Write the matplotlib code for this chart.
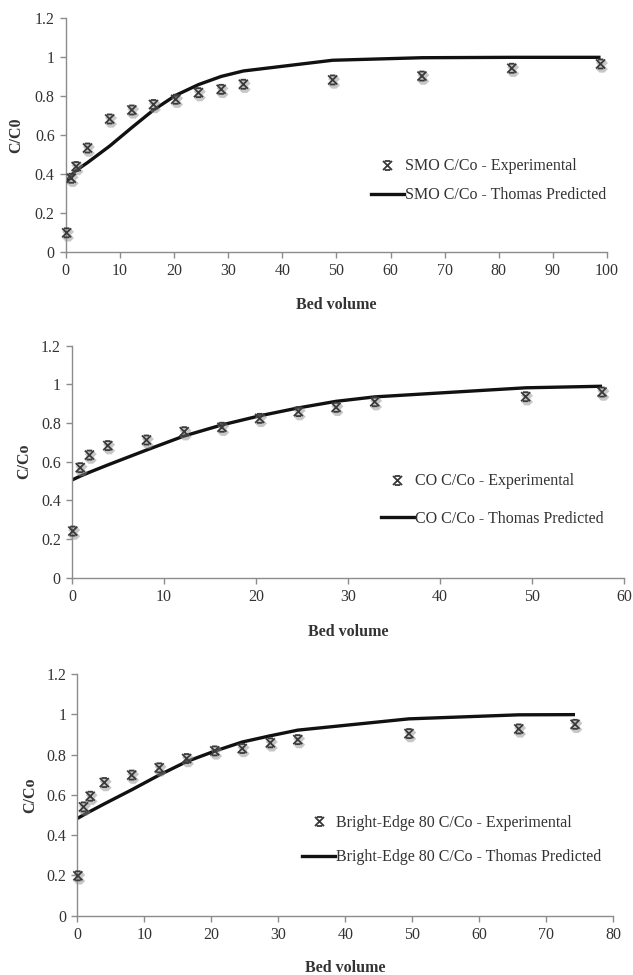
import numpy as np
import matplotlib
matplotlib.use('Agg')
import matplotlib.pyplot as plt
import matplotlib.patheffects as pe
from matplotlib.path import Path
from matplotlib.ticker import FuncFormatter, MultipleLocator
from matplotlib.lines import Line2D

plt.rcParams['font.family'] = ['Liberation Serif', 'DejaVu Serif']

# SMO
smo_bv = [0.15, 1.0, 1.9, 4.0, 8.1, 12.2, 16.2, 20.3, 24.5, 28.7, 32.8, 49.3, 65.8, 82.4, 98.8]
smo_exp = [0.10, 0.38, 0.44, 0.535, 0.684, 0.73, 0.758, 0.785, 0.819, 0.836, 0.862, 0.884, 0.904, 0.944, 0.966]
smo_line_bv = [0, 1.0, 1.9, 4.0, 8.1, 12.2, 16.2, 20.3, 24.5, 28.7, 32.8, 49.3, 65.8, 82.4, 98.8]
smo_thomas = [0.36, 0.395, 0.42, 0.46, 0.545, 0.64, 0.73, 0.805, 0.86, 0.902, 0.93, 0.985, 0.998, 1.0, 1.0]

# CO
co_bv = [0.1, 0.9, 1.9, 3.9, 8.1, 12.2, 16.3, 20.4, 24.6, 28.7, 32.9, 49.3, 57.6]
co_exp = [0.241, 0.569, 0.634, 0.683, 0.712, 0.755, 0.778, 0.824, 0.859, 0.881, 0.910, 0.936, 0.960]
co_line_bv = [0, 0.9, 1.9, 3.9, 8.1, 12.2, 16.3, 20.4, 24.6, 28.7, 32.9, 49.3, 57.6]
co_thomas = [0.505, 0.525, 0.545, 0.583, 0.66, 0.733, 0.79, 0.837, 0.878, 0.912, 0.935, 0.982, 0.99]

# Bright-Edge 80
be_bv = [0.06, 0.9, 1.9, 4.0, 8.1, 12.2, 16.3, 20.5, 24.6, 28.8, 32.9, 49.5, 65.9, 74.3]
be_exp = [0.198, 0.540, 0.593, 0.661, 0.698, 0.734, 0.780, 0.818, 0.830, 0.858, 0.874, 0.904, 0.927, 0.950]
be_line_bv = [0, 0.9, 1.9, 4.0, 8.1, 12.2, 16.3, 20.5, 24.6, 28.8, 32.9, 49.5, 65.9, 74.3]
be_thomas = [0.483, 0.50, 0.518, 0.555, 0.625, 0.698, 0.765, 0.817, 0.862, 0.893, 0.921, 0.977, 0.997, 0.998]

# X marker with caps top and bottom (Excel style)
verts = [(-1, -1), (1, 1), (-1, 1), (1, -1), (-0.6, 1), (0.6, 1), (-0.6, -1), (0.6, -1)]
codes = [Path.MOVETO, Path.LINETO] * 4
star = Path(verts, codes)

shadow = [pe.SimpleLineShadow(offset=(1, -1.5), shadow_color='#909090', alpha=0.5, rho=1.0, linewidth=3),
          pe.Normal()]

panels = [
    dict(bv=smo_bv, exp=smo_exp, lbv=smo_line_bv, th=smo_thomas, xmax=100, ylab='C/C0',
         name='SMO', rect=[0.104, 0.7412, 0.855, 0.240], leg=(0.563, 0.306), lsp=0.8,
         ylx=-0.077, xly=-0.19),
    dict(bv=co_bv, exp=co_exp, lbv=co_line_bv, th=co_thomas, xmax=60, ylab='C/Co',
         name='CO', rect=[0.1136, 0.4075, 0.8724, 0.238], leg=(0.559, 0.334), lsp=1.35,
         ylx=-0.072, xly=-0.2),
    dict(bv=be_bv, exp=be_exp, lbv=be_line_bv, th=be_thomas, xmax=80, ylab='C/Co',
         name='Bright-Edge 80', rect=[0.1224, 0.0608, 0.8463, 0.248], leg=(0.419, 0.313), lsp=1.15,
         ylx=-0.074, xly=-0.182),
]

fig = plt.figure(figsize=(6.33, 9.75), dpi=100)
grey = '#8c8c8c'
txt = '#333333'

for p in panels:
    ax = fig.add_axes(p['rect'])
    ax.plot(p['bv'], p['exp'], linestyle='none', marker=star, markersize=6.5,
            markeredgewidth=1.3, color='#3a3a3a', path_effects=shadow, clip_on=False, zorder=3)
    ax.plot(p['lbv'], p['th'], color='#111111', linewidth=2.4, solid_capstyle='butt', zorder=2)
    ax.set_xlim(0, p['xmax'])
    ax.set_ylim(0, 1.2)
    ax.xaxis.set_major_locator(MultipleLocator(10))
    ax.yaxis.set_major_locator(MultipleLocator(0.2))
    ax.yaxis.set_major_formatter(FuncFormatter(lambda v, pos: '%g' % round(v, 2)))
    for s in ['top', 'right']:
        ax.spines[s].set_visible(False)
    for s in ['left', 'bottom']:
        ax.spines[s].set_color(grey)
        ax.spines[s].set_linewidth(1.0)
    ax.tick_params(direction='out', length=4, width=1, color=grey, labelsize=11.5,
                   labelcolor=txt, pad=4)
    ax.set_ylabel(p['ylab'], fontweight='bold', fontsize=11.5, color=txt)
    ax.yaxis.set_label_coords(p['ylx'], 0.5)
    ax.set_xlabel('Bed volume', fontweight='bold', fontsize=11.5, color=txt)
    ax.xaxis.set_label_coords(0.5, p['xly'])

    h1 = Line2D([], [], linestyle='none', marker=star, markersize=6.5, markeredgewidth=1.3,
                color='#3a3a3a')
    h2 = Line2D([], [], color='#111111', linewidth=2.4)
    ax.legend([h1, h2], [p['name'] + ' C/Co - Experimental', p['name'] + ' C/Co - Thomas Predicted'],
              loc='center left', bbox_to_anchor=p['leg'], frameon=False, fontsize=11.5,
              handlelength=2.1, handletextpad=0.05, labelspacing=p['lsp'], borderpad=0,
              borderaxespad=0, labelcolor=txt)

fig.savefig('out.png', dpi=100)
